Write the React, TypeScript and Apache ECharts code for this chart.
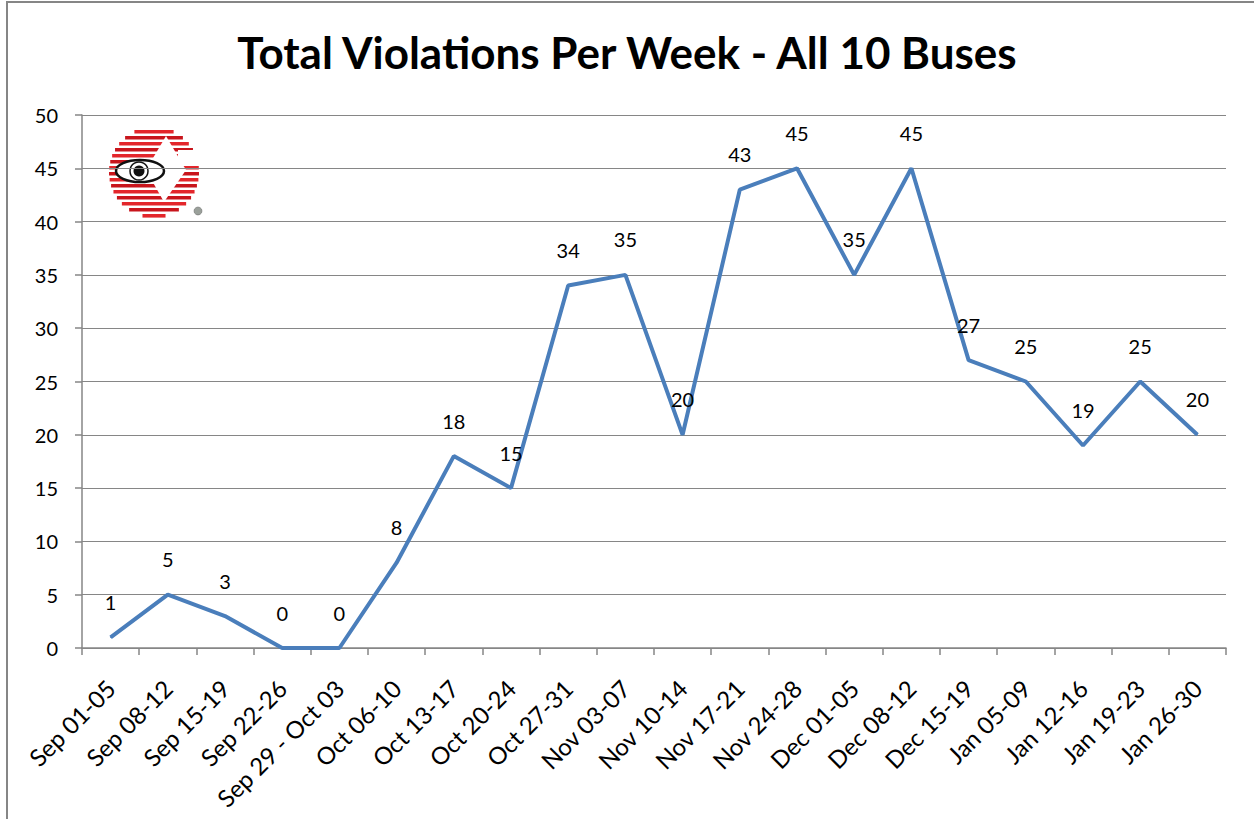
import React, { useEffect, useRef } from "react";
import * as echarts from "echarts";

const weeks = [
  "Sep 01-05", "Sep 08-12", "Sep 15-19", "Sep 22-26", "Sep 29 - Oct 03",
  "Oct 06-10", "Oct 13-17", "Oct 20-24", "Oct 27-31", "Nov 03-07",
  "Nov 10-14", "Nov 17-21", "Nov 24-28", "Dec 01-05", "Dec 08-12",
  "Dec 15-19", "Jan 05-09", "Jan 12-16", "Jan 19-23", "Jan 26-30",
];
const violations = [1, 5, 3, 0, 0, 8, 18, 15, 34, 35, 20, 43, 45, 35, 45, 27, 25, 19, 25, 20];

const FONT = "Lato, 'Open Sans', sans-serif";

function buildLogo() {
  const cx = 154, cy = 172, r = 45;
  const children: any[] = [];
  let k = 0;
  for (let y = cy - r + 3; y <= cy + r - 2; y += 6) {
    const dy = Math.min(Math.abs(y + 1.5 - cy), r - 1);
    const half = Math.sqrt(r * r - dy * dy);
    children.push({
      type: "rect",
      shape: { x: cx - half, y, width: half * 2, height: 3.6 },
      style: { fill: k % 2 === 0 ? "#e3262b" : "#c8151c" },
    });
    k++;
  }
  children.push({
    type: "polygon",
    shape: { points: [[166, 136], [186, 170], [164, 202], [146, 170]] },
    style: { fill: "#ffffff" },
  });
  children.push({
    type: "rect",
    shape: { x: 178, y: 150, width: 25, height: 16 },
    style: { fill: "#ffffff" },
  });
  children.push({
    type: "ellipse",
    shape: { cx: 140, cy: 171, rx: 24, ry: 11 },
    style: { fill: "#ffffff", stroke: "#111111", lineWidth: 2.5 },
  });
  children.push({
    type: "circle",
    shape: { cx: 139, cy: 171, r: 9 },
    style: { fill: "#ffffff", stroke: "#111111", lineWidth: 1.5 },
  });
  children.push({
    type: "circle",
    shape: { cx: 139, cy: 171, r: 5.5 },
    style: { fill: "#111111" },
  });
  children.push({
    type: "circle",
    shape: { cx: 198, cy: 211, r: 4 },
    style: { fill: "#9aa09a", stroke: "#666", lineWidth: 0.5 },
  });
  return { type: "group", children };
}

export default function App() {
  const ref = useRef<HTMLDivElement>(null);
  useEffect(() => {
    document.body.style.margin = "0";
    const chart = echarts.init(ref.current!, null, { renderer: "svg" });
    chart.setOption({
      animation: false,
      backgroundColor: "#ffffff",
      title: {
        text: "Total Violations Per Week - All 10 Buses",
        left: "center",
        top: 25,
        textStyle: { fontFamily: FONT, fontSize: 44, fontWeight: "bold", color: "#000" },
      },
      grid: { left: 82, right: 28, top: 115, bottom: 171, containLabel: false },
      xAxis: {
        type: "category",
        data: weeks,
        boundaryGap: true,
        axisLine: { lineStyle: { color: "#868686", width: 1.5 } },
        axisTick: { show: true, length: 7, lineStyle: { color: "#868686", width: 1.5 } },
        axisLabel: {
          interval: 0,
          rotate: 45,
          margin: 36,
          fontSize: 24,
          fontFamily: FONT,
          color: "#000",
        },
      },
      yAxis: {
        type: "value",
        min: 0,
        max: 50,
        interval: 5,
        axisLine: { show: true, lineStyle: { color: "#868686", width: 1.5 } },
        axisTick: { show: true, length: 7, lineStyle: { color: "#868686", width: 1.5 } },
        splitLine: { lineStyle: { color: "#868686", width: 1.2 } },
        axisLabel: { fontSize: 20, fontFamily: FONT, color: "#000", margin: 24 },
      },
      series: [
        {
          type: "line",
          data: violations,
          symbol: "circle",
          symbolSize: 1,
          showSymbol: true,
          lineStyle: { color: "#4a7ebb", width: 4 },
          itemStyle: { color: "#4a7ebb" },
          label: {
            show: true,
            position: "top",
            distance: 25,
            fontSize: 20,
            fontFamily: FONT,
            color: "#000",
          },
        },
      ],
      graphic: [
        {
          type: "rect",
          shape: { x: 7, y: 2, width: 1400, height: 1000 },
          style: { fill: "none", stroke: "#868686", lineWidth: 2 },
          silent: true,
        },
        buildLogo(),
      ],
    });
    return () => chart.dispose();
  }, []);
  return <div ref={ref} style={{ width: 1254, height: 819 }} />;
}
